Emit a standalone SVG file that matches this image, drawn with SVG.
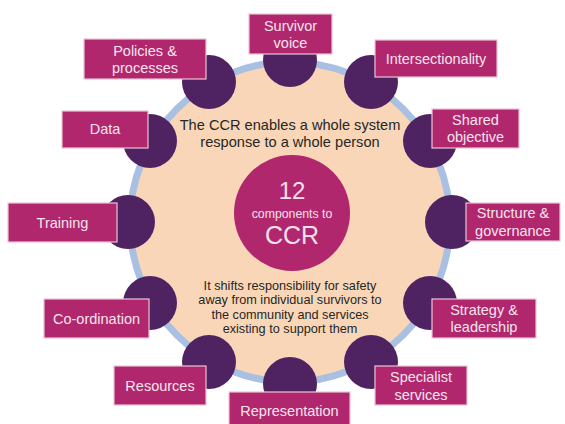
<svg xmlns="http://www.w3.org/2000/svg" width="565" height="424" viewBox="0 0 565 424">
<style>
  text { font-family: "Liberation Sans", Arial, sans-serif; text-anchor: middle; }
  .dot { fill: #4F2361; }
  .lbl { fill: #B1276D; stroke: #EBC3D6; stroke-width: 1.2; }
  .lt { fill: #F6E4EE; font-size: 14.5px; }
  .body { fill: #262626; }
  .cc { fill: #F6E0EB; }
</style>
<rect width="565" height="424" fill="#FFFFFF"/>
<g id="background">
  <circle cx="290" cy="222" r="160" fill="#F9D6B7" stroke="#A9C0E2" stroke-width="7"/>
</g>
<g id="connectors"></g>
<g id="center">
  <circle cx="292" cy="213" r="58" fill="#B1276D"/>
  <text class="cc" x="292" y="199" font-size="24">12</text>
  <text class="cc" x="292" y="218" font-size="12.3">components to</text>
  <text class="cc" x="292" y="244" font-size="25">CCR</text>
</g>
<g id="text-top">
  <text class="body" x="290" y="130" font-size="14.6">The CCR enables a whole system</text>
  <text class="body" x="290" y="147" font-size="14.6">response to a whole person</text>
</g>
<g id="text-bottom">
  <text class="body" x="290" y="289.5" font-size="12.7">It shifts responsibility for safety</text>
  <text class="body" x="290" y="304" font-size="12.7">away from individual survivors to</text>
  <text class="body" x="290" y="318.5" font-size="12.7">the community and services</text>
  <text class="body" x="290" y="333" font-size="12.7">existing to support them</text>
</g>
<g id="survivor-voice">
  <circle class="dot" cx="290" cy="60" r="27"/>
  <rect class="lbl" x="249" y="14" width="83" height="40"/>
  <text class="lt" x="290.5" y="31">Survivor</text>
  <text class="lt" x="290.5" y="48">voice</text>
</g>
<g id="intersectionality">
  <circle class="dot" cx="371" cy="82" r="27"/>
  <rect class="lbl" x="375" y="40" width="122" height="37"/>
  <text class="lt" x="436" y="64">Intersectionality</text>
</g>
<g id="shared-objective">
  <circle class="dot" cx="430" cy="141" r="27"/>
  <rect class="lbl" x="432" y="109" width="87" height="39"/>
  <text class="lt" x="475.5" y="125">Shared</text>
  <text class="lt" x="475.5" y="142">objective</text>
</g>
<g id="structure-governance">
  <circle class="dot" cx="452" cy="222" r="27"/>
  <rect class="lbl" x="466" y="203" width="94" height="38"/>
  <text class="lt" x="513" y="218">Structure &amp;</text>
  <text class="lt" x="513" y="236">governance</text>
</g>
<g id="strategy-leadership">
  <circle class="dot" cx="430" cy="303" r="27"/>
  <rect class="lbl" x="432" y="299" width="104" height="39"/>
  <text class="lt" x="484" y="315">Strategy &amp;</text>
  <text class="lt" x="484" y="332">leadership</text>
</g>
<g id="specialist-services">
  <circle class="dot" cx="371" cy="362" r="27"/>
  <rect class="lbl" x="375" y="366" width="92" height="39"/>
  <text class="lt" x="421" y="382">Specialist</text>
  <text class="lt" x="421" y="400">services</text>
</g>
<g id="representation">
  <circle class="dot" cx="290" cy="384" r="27"/>
  <rect class="lbl" x="229" y="392" width="121" height="34"/>
  <text class="lt" x="289.5" y="416">Representation</text>
</g>
<g id="resources">
  <circle class="dot" cx="209" cy="362" r="27"/>
  <rect class="lbl" x="114" y="366" width="92" height="39"/>
  <text class="lt" x="160" y="391">Resources</text>
</g>
<g id="co-ordination">
  <circle class="dot" cx="150" cy="303" r="27"/>
  <rect class="lbl" x="44" y="299" width="105" height="39"/>
  <text class="lt" x="96.5" y="324">Co-ordination</text>
</g>
<g id="training">
  <circle class="dot" cx="128" cy="222" r="27"/>
  <rect class="lbl" x="8" y="203" width="109" height="39"/>
  <text class="lt" x="62.5" y="228">Training</text>
</g>
<g id="data">
  <circle class="dot" cx="150" cy="141" r="27"/>
  <rect class="lbl" x="62" y="111" width="86" height="37"/>
  <text class="lt" x="105" y="134">Data</text>
</g>
<g id="policies-processes">
  <circle class="dot" cx="209" cy="82" r="27"/>
  <rect class="lbl" x="84" y="39" width="122" height="40"/>
  <text class="lt" x="145" y="56">Policies &amp;</text>
  <text class="lt" x="145" y="73">processes</text>
</g>
</svg>
